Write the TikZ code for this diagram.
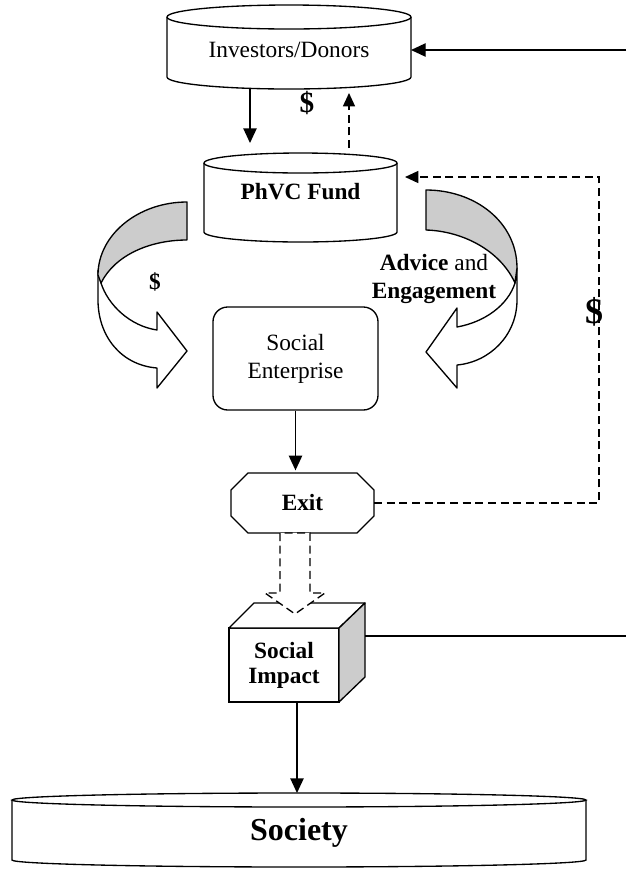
\documentclass[tikz,border=0pt]{standalone}
\usepackage{fontspec}
\setmainfont{Liberation Serif}
\usetikzlibrary{arrows.meta,calc}
\begin{document}
\begin{tikzpicture}[x=0.75pt,y=0.75pt,
  lw/.style={line width=1pt},
  arr/.style={lw,-{Triangle[length=11pt,width=10pt]}},
  dashpat/.style={lw,dash pattern=on 6pt off 3.5pt},
  darr/.style={dashpat,-{Triangle[length=10pt,width=9pt]}},
  anchorbox/.style={inner sep=0pt,outer sep=0pt,rectangle,draw=none},
  base/.style={font=\fontsize{17.5}{21}\selectfont,align=center,inner sep=0pt},
  shade/.style={fill=gray!40}
]
\useasboundingbox (0,0) rectangle (626,-869);

% Investors/Donors cylinder
\draw[lw,fill=white] (167,-17) -- (167,-77) arc[start angle=180,end angle=360,x radius=122,y radius=12] -- (411,-17);
\draw[lw,fill=white] (289,-17) ellipse[x radius=122,y radius=12];
\node[anchorbox,minimum width=183pt,minimum height=63pt] (inv) at (289,-47) {};
\node[base] (invt) at (289,-50) {Investors/Donors};

% PhVC Fund cylinder
\draw[lw,fill=white] (204,-163) -- (204,-232) arc[start angle=180,end angle=360,x radius=96.5,y radius=10] -- (397,-163);
\draw[lw,fill=white] (300.5,-163) ellipse[x radius=96.5,y radius=10];
\node[anchorbox,minimum width=144.75pt,minimum height=66.75pt] (fund) at (300.5,-197.5) {};
\node[base] (fundt) at (300.5,-192) {\bfseries PhVC Fund};

% Left curved arrow
\draw[lw,fill=white,line join=round] (98,-270) -- (98,-300) .. controls (98,-335) and (120,-365) .. (157,-368) -- (157,-388) -- (187,-351) -- (157,-312) -- (157,-330) .. controls (130,-326) and (108,-305) .. (101,-283) -- cycle;
\draw[lw,shade,line join=round] (187,-202) .. controls (138,-202) and (98,-235) .. (98,-275) -- (101,-283) .. controls (115,-255) and (150,-240) .. (187,-240) -- cycle;

% Right curved arrow
\draw[lw,fill=white,line join=round] (517,-268) -- (517,-300) .. controls (517,-335) and (490,-362) .. (457,-365) -- (457,-388) -- (426,-352) -- (457,-308) -- (457,-327) .. controls (485,-322) and (508,-305) .. (515,-283) -- cycle;
\draw[lw,shade,line join=round] (426,-190) .. controls (475,-190) and (517,-222) .. (517,-268) -- (515,-283) .. controls (500,-250) and (462,-231) .. (426,-230) -- cycle;

% Social Enterprise
\node[draw,lw,rounded corners=11pt,minimum width=123.75pt,minimum height=77.25pt,base] (se) at (295.5,-358.5) {Social\\Enterprise};

% Exit octagon
\draw[lw,fill=white] (248,-473) -- (357,-473) -- (374,-490) -- (374,-516) -- (357,-533) -- (248,-533) -- (231,-516) -- (231,-490) -- cycle;
\node[anchorbox,minimum width=107.25pt,minimum height=45pt] (exit) at (302.5,-503) {};
\node[base] (exitt) at (302.5,-503) {\bfseries Exit};

% Social Impact cube
\draw[lw,fill=white] (229,-628) rectangle (339,-702);
\draw[lw,fill=white,line join=round] (229,-628) -- (254,-603) -- (365,-603) -- (339,-628) -- cycle;
\draw[lw,shade,line join=round] (339,-628) -- (365,-603) -- (365,-677) -- (339,-702) -- cycle;
\node[anchorbox,minimum width=102pt,minimum height=74.25pt] (impact) at (297,-652.5) {};
\node[base,font=\fontsize{17.5}{18.75}\selectfont] (impactt) at (284,-665.5) {\bfseries Social\\\bfseries Impact};

% Dashed block arrow Exit -> Social Impact
\draw[dashpat,fill=white,line join=miter] (280,-533) -- (280,-593) -- (265,-593) -- (295,-614) -- (325,-593) -- (310,-593) -- (310,-533) -- cycle;

% Society cylinder
\draw[lw,fill=white] (12,-800) -- (12,-860) arc[start angle=180,end angle=360,x radius=287,y radius=7] -- (586,-800);
\draw[lw,fill=white] (299,-800) ellipse[x radius=287,y radius=7];
\node[anchorbox,minimum width=430.5pt,minimum height=55.5pt] (society) at (299,-830) {};
\node[inner sep=0pt,font=\fontsize{24}{24}\selectfont\bfseries] (societyt) at (299,-833) {Society};

% helper coordinates
\coordinate (xa) at (250,0);
\coordinate (xb) at (349,0);
\coordinate (loop) at (599,-177);
\coordinate (r1) at (626,-50);
\coordinate (r2) at (626,-636);

% connectors
\draw[arr,shorten >=7.5pt] (inv.south -| xa) -- (fund.north -| xa);
\draw[darr,shorten <=3.75pt,shorten >=3pt] (fund.north -| xb) -- (inv.south -| xb);
\draw[darr,shorten >=6pt] (exit.east) -- (exit.east -| loop) -- (loop) -- (loop -| fund.east);
\draw[arr,shorten >=2pt] (se.south) -- (se.south |- exit.north);
\draw[arr] (impact.south) -- (impact.south |- society.north);
\draw[arr] (r1) -- (r1 -| inv.east);
\draw[lw] (impact.east |- r2) -- (r2);

% labels
\node[inner sep=0pt,font=\fontsize{22}{22}\selectfont\bfseries] (d1) at (307,-103) {\$};
\node[base] (d2) at (155,-282) {\bfseries\$};
\node[inner sep=0pt,font=\fontsize{27}{27}\selectfont\bfseries] (d3) at (594,-312) {\$};
\node[base] (adv) at (434,-279) {\textbf{Advice} and\\\textbf{Engagement}};
\end{tikzpicture}
\end{document}
